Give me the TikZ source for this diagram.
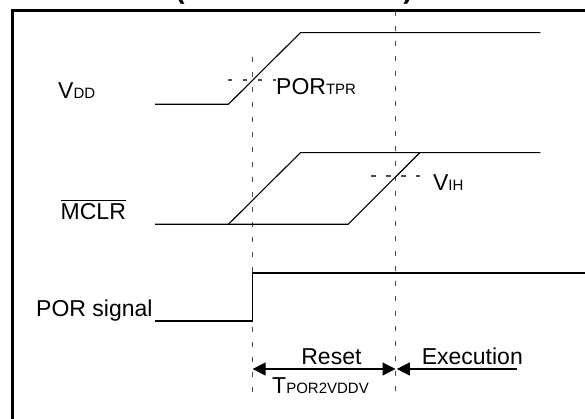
\documentclass[tikz,border=0pt]{standalone}
\usepackage{fontspec}
\setmainfont{Liberation Sans}
\usetikzlibrary{arrows.meta}
\newcommand\smallsub[1]{{\fontsize{15}{15}\selectfont #1}}
\begin{document}
\begin{tikzpicture}[x=1pt,y=-1pt,
  sig/.style={line width=1.1pt, black},
  guide/.style={line width=1.4pt, dash pattern=on 5pt off 10pt, black!70},
  thr/.style={line width=1.3pt, dash pattern=on 4.5pt off 10.5pt, black!70},
  frameline/.style={line width=2.6pt, black},
  lbl/.style={inner sep=0pt, anchor=base west, font=\fontsize{23}{26}\selectfont},
  tip/.style={line width=1.1pt, black, arrows={-Triangle[length=13pt,width=13pt]}}]
\useasboundingbox (0,0) rectangle (585,419);
% clipped title
\node[inner sep=0pt, anchor=base, font=\fontsize{28}{28}\selectfont\bfseries] (tl) at (180,-1.5) {(};
\node[inner sep=0pt, anchor=base, font=\fontsize{28}{28}\selectfont\bfseries] (tr) at (408,-1.5) {)};
% frame
\coordinate (fb) at (12.5,419);
\coordinate (fc) at (12.5,10.5);
\coordinate (fr) at (585,10.5);
\draw[frameline] (fb) -- (fc) -- (fr);
% guides
\coordinate (g1t) at (252.6,57);
\coordinate (g1b) at (252.6,392);
\coordinate (g2t) at (395.5,11);
\coordinate (g2b) at (395.5,392);
\draw[guide] (g1t) -- (g1b);
\draw[guide] (g2t) -- (g2b);
% VDD
\coordinate (v0) at (155.2,104.3);
\coordinate (v1) at (228.4,104.3);
\coordinate (v2) at (300.4,32.7);
\coordinate (v3) at (540.3,32.7);
\draw[sig] (v0) -- (v1) -- (v2) -- (v3);
\coordinate (p0) at (227.6,80);
\coordinate (p1) at (276,80);
\draw[thr] (p0) -- (p1);
\node[lbl] (vdd) at (58,99) {V\smallsub{DD}};
\node[lbl] (portpr) at (276,95) {POR\smallsub{TPR}};
% MCLR
\coordinate (m0) at (155.2,224.3);
\coordinate (m1) at (348.1,224.3);
\coordinate (m2) at (419.8,152.7);
\coordinate (m3) at (540.3,152.7);
\coordinate (m4) at (228.4,224.3);
\coordinate (m5) at (300.4,152.7);
\draw[sig] (m0) -- (m1) -- (m2) -- (m3);
\draw[sig] (m4) -- (m5) -- (m2);
\coordinate (h0) at (371.3,176);
\coordinate (h1) at (419.8,176);
\draw[thr] (h0) -- (h1);
\node[lbl] (vih) at (432.8,190.7) {V\smallsub{IH}};
\node[lbl] (mclr) at (60.5,220) {MCLR};
\draw[line width=1.2pt] ([yshift=3.5pt]mclr.north west) -- ([yshift=3.5pt]mclr.north east);
% POR signal
\coordinate (s0) at (155.2,321);
\coordinate (s1) at (252.6,321);
\coordinate (s2) at (252.6,273);
\coordinate (s3) at (585,273);
\draw[sig] (s0) -- (s1) -- (s2) -- (s3);
\node[lbl] (por) at (36,316) {POR signal};
% durations
\coordinate (r1) at (252.6,369);
\coordinate (r2) at (395.5,369);
\coordinate (e1) at (516.8,369);
\coordinate (e2) at (396.8,369);
\draw[sig, {Triangle[length=13pt,width=13pt]}-{Triangle[length=13pt,width=13pt]}] (r1) -- (r2);
\draw[tip] (e1) -- (e2);
\node[lbl, anchor=base] (reset) at (331.4,364) {Reset};
\node[lbl] (exec) at (421.6,364) {Execution};
\node[lbl] (tpor) at (272,393) {T\smallsub{POR2VDDV}};
\end{tikzpicture}
\end{document}
